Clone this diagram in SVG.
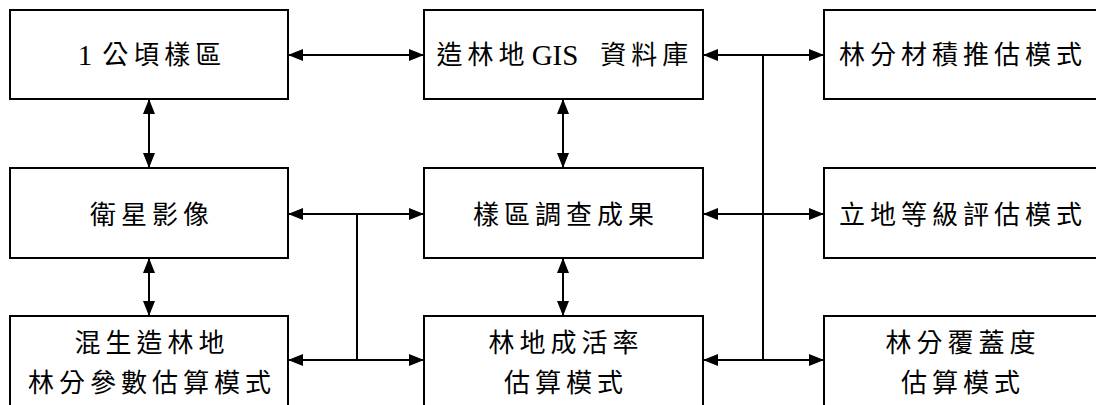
<svg xmlns="http://www.w3.org/2000/svg" width="1096" height="405" viewBox="0 0 1096 405">
  <style>
    .box { fill: #ffffff; stroke: #000000; stroke-width: 2; }
    .lbl { font-family: "Liberation Serif", "Noto Sans CJK TC", serif; font-size: 26px; letter-spacing: 5px; fill: #000000; text-anchor: middle; dominant-baseline: central; }
    .lat { font-family: "Liberation Serif", serif; font-size: 29px; letter-spacing: 0; }
    .wire { stroke: #000000; stroke-width: 2; fill: none; }
    .both { marker-start: url(#head); marker-end: url(#head); }
  </style>
  <defs>
    <marker id="head" markerUnits="userSpaceOnUse" markerWidth="16" markerHeight="13" refX="15" refY="6" orient="auto-start-reverse">
      <path d="M0,0 L15,6 L0,12 z" fill="#000000"/>
    </marker>
  </defs>
  <rect width="1096" height="405" fill="#ffffff"/>

  <!-- top row -->
  <g id="plot-1ha">
    <rect class="box" x="10" y="10" width="278" height="89"/>
    <text class="lbl" x="152" y="55"><tspan class="lat">1</tspan><tspan dx="10">公頃樣區</tspan></text>
  </g>
  <g id="gis-db">
    <rect class="box" x="424" y="10" width="279" height="89"/>
    <text class="lbl" x="565" y="55">造林地<tspan class="lat" dx="2">GIS</tspan><tspan dx="22">資料庫</tspan></text>
  </g>
  <g id="volume-model">
    <rect class="box" x="824" y="10" width="290" height="89"/>
    <text class="lbl" x="963" y="55">林分材積推估模式</text>
  </g>

  <!-- middle row -->
  <g id="satellite">
    <rect class="box" x="10" y="168" width="278" height="90"/>
    <text class="lbl" x="152" y="215">衛星影像</text>
  </g>
  <g id="survey-result">
    <rect class="box" x="424" y="168" width="279" height="90"/>
    <text class="lbl" x="566" y="215">樣區調查成果</text>
  </g>
  <g id="site-class-model">
    <rect class="box" x="824" y="168" width="290" height="90"/>
    <text class="lbl" x="963" y="215">立地等級評估模式</text>
  </g>

  <!-- bottom row -->
  <g id="stand-param-model">
    <rect class="box" x="10" y="316" width="278" height="110"/>
    <text class="lbl" x="152" y="343">混生造林地</text>
    <text class="lbl" x="152" y="383">林分參數估算模式</text>
  </g>
  <g id="survival-model">
    <rect class="box" x="424" y="316" width="279" height="110"/>
    <text class="lbl" x="566" y="343">林地成活率</text>
    <text class="lbl" x="566" y="383">估算模式</text>
  </g>
  <g id="cover-model">
    <rect class="box" x="824" y="316" width="290" height="110"/>
    <text class="lbl" x="963" y="343">林分覆蓋度</text>
    <text class="lbl" x="963" y="383">估算模式</text>
  </g>

  <g id="connectors">
    <!-- left column vertical links -->
    <line class="wire both" x1="149" y1="99" x2="149" y2="168"/>
    <line class="wire both" x1="149" y1="258" x2="149" y2="316"/>
    <!-- centre column vertical links -->
    <line class="wire both" x1="563" y1="99" x2="563" y2="168"/>
    <line class="wire both" x1="563" y1="258" x2="563" y2="316"/>
    <!-- top row horizontal link -->
    <line class="wire both" x1="288" y1="55" x2="424" y2="55"/>
    <!-- left bus -->
    <line class="wire" x1="357" y1="214" x2="357" y2="360"/>
    <line class="wire both" x1="288" y1="214" x2="424" y2="214"/>
    <line class="wire both" x1="288" y1="360" x2="424" y2="360"/>
    <!-- right bus -->
    <line class="wire" x1="763" y1="55" x2="763" y2="360"/>
    <line class="wire both" x1="703" y1="55" x2="824" y2="55"/>
    <line class="wire both" x1="703" y1="214" x2="824" y2="214"/>
    <line class="wire both" x1="703" y1="360" x2="824" y2="360"/>
  </g>
</svg>
